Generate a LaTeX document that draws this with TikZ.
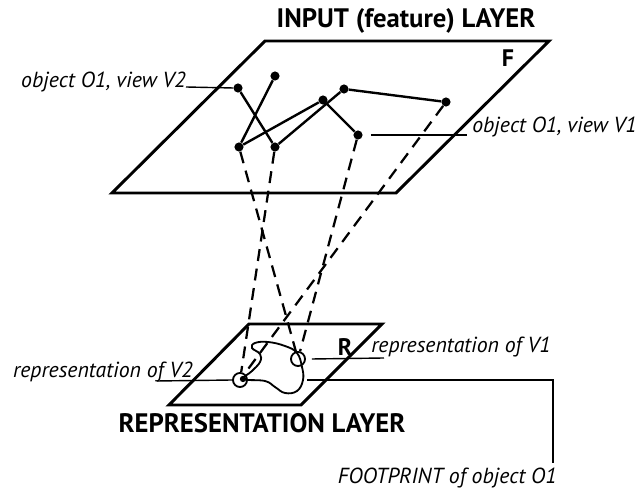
\documentclass[tikz,border=0pt]{standalone}
\usepackage{fontspec}
\setmainfont{PT Sans}
\usetikzlibrary{positioning}
\tikzset{
  layer/.style={line width=2.1pt, line join=miter},
  link/.style={line width=1.7pt},
  feature/.style={circle, fill, inner sep=0pt, minimum size=6.5pt},
  ring/.style={circle, draw, line width=1.3pt, inner sep=0pt, minimum size=10pt},
  proj/.style={line width=1.6pt, dash pattern=on 8.5pt off 5.5pt},
  lead/.style={line width=1pt},
  tag/.style={font=\itshape\fontsize{15.5}{18}\selectfont, inner sep=0pt},
  title/.style={font=\bfseries\fontsize{19}{22}\selectfont, inner sep=0pt},
  corner/.style={font=\bfseries\fontsize{17}{20}\selectfont, inner sep=0pt},
}
\begin{document}
\begin{tikzpicture}[x=0.025cm, y=-0.025cm]
  \useasboundingbox (0,0) rectangle (641,490);
  % input (feature) layer
  \draw[layer] (265,41) -- (549,41) -- (396,193) -- (112,193) -- cycle;
  \node[title, anchor=base] (intitle) at (406,28) {INPUT (feature) LAYER};
  \node[corner] (F) at (508,58) {F};
  \node[feature] (p1) at (238,88) {};
  \node[feature] (p2) at (275,76) {};
  \node[feature] (p3) at (239,147) {};
  \node[feature] (p4) at (275,147) {};
  \node[feature] (p5) at (323,100) {};
  \node[feature] (p6) at (344,89) {};
  \node[feature] (p7) at (446,102) {};
  \node[feature] (p8) at (358,135) {};
  \draw[link] (p1) -- (p4);
  \draw[link] (p2) -- (p3);
  \draw[link] (p3) -- (p5) -- (p8);
  \draw[link] (p4) -- (p6) -- (p7);
  % representation layer
  \draw[layer] (249,324) -- (382,324) -- (301,405) -- (169,405) -- cycle;
  \node[title, anchor=base] (reptitle) at (262,433) {REPRESENTATION LAYER};
  \node[corner] (R) at (345,347) {R};
  \node[ring] (r1) at (298,359) {};
  \node[ring] (r2) at (240,380) {};
  \node[feature, minimum size=4.5pt] (r2dot) at (243,379) {};
  \draw[line width=1.3pt] plot[smooth cycle, tension=0.7] coordinates {
    (255,343) (268,342) (285,346) (297,353) (302,367) (303,380) (297,391)
    (285,393) (275,387) (265,381) (244,379) (252,371) (260,362) (260,354) (252,348)};
  % projections
  \draw[proj] (p3) -- (r1);
  \draw[proj] (p8) -- (r1);
  \draw[proj] (p4) -- (r2);
  \draw[proj] (p7) -- (r2);
  % labels
  \node[tag, anchor=base east] (objv2) at (186,88) {object O1, view V2};
  \draw[lead] (objv2.base east) ++(0,-1) -- (p1.west);
  \node[tag, anchor=base west] (objv1) at (472,133) {object O1, view V1};
  \coordinate (objv1end) at (467,135);
  \draw[lead] (p8.east) ++(8,0) -- (objv1end);
  \node[tag, anchor=base west] (repv1) at (371,353) {representation of V1};
  \coordinate (repv1end) at (384,358);
  \draw[lead] (r1.east) ++(6,0) -- (repv1end);
  \node[tag, anchor=base east] (repv2) at (193,378) {representation of V2};
  \coordinate (repv2start) at (157,381);
  \draw[lead] (repv2start) -- (r2.west);
  \node[tag, anchor=base east] (foot) at (557,484) {FOOTPRINT of object O1};
  \coordinate (footstart) at (307,380);
  \coordinate (footend) at (553,463);
  \draw[lead] (footstart) -| (footend);
\end{tikzpicture}
\end{document}
